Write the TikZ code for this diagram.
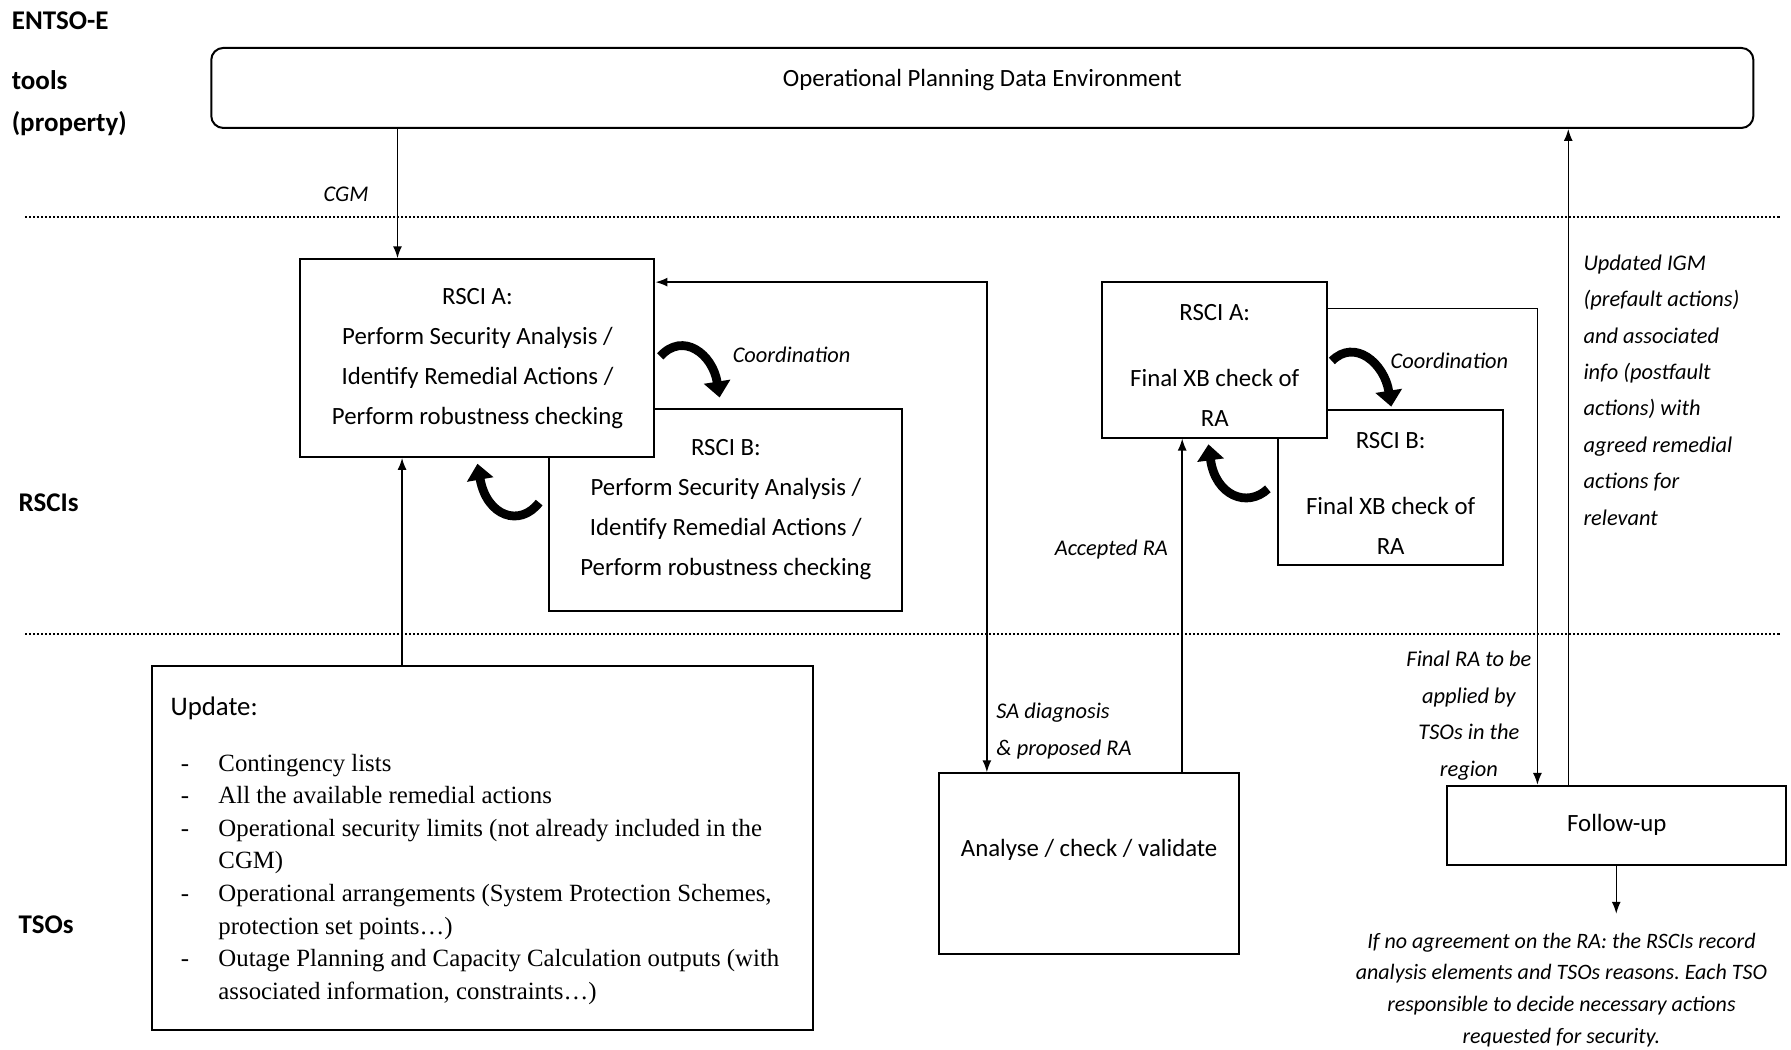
\documentclass[tikz,border=0pt]{standalone}
\usepackage{fontspec}
\setmainfont{Liberation Serif}
\setsansfont{Carlito}
\usetikzlibrary{arrows.meta,positioning}
\frenchspacing

\tikzset{
  box/.style={draw, line width=1pt, fill=white, inner sep=0pt, align=center,
    font=\sffamily\fontsize{12.4}{20}\selectfont},
  txt/.style={inner sep=0pt, align=center, font=\sffamily\fontsize{12.4}{20}\selectfont},
  conn/.style={line width=0.75pt},
  lane/.style={line width=1.3pt, dash pattern=on 1pt off 1pt},
  lab/.style={inner sep=0pt, align=center, font=\sffamily\itshape\fontsize{11.2}{18.2}\selectfont},
  side/.style={anchor=west, inner sep=0pt, font=\sffamily\bfseries\fontsize{13.5}{16}\selectfont},
  coordarr/.style={line width=4.4pt, -{Triangle[length=8pt,width=13pt]}},
  >={Latex[length=6pt,width=4.5pt]}
}

\begin{document}
\begin{tikzpicture}[x=0.571pt,y=-0.571pt]
\useasboundingbox (0,0) rectangle (1568,919);

% swim lanes
\node[side] (entso) at (10,18) {ENTSO-E};
\node[side] (tools) at (10,70) {tools};
\node[side] (prop) at (10,108) {(property)};
\node[side] (rscis) at (16,440) {RSCIs};
\node[side] (tsos) at (16,810) {TSOs};
\draw[lane] (22,190) -- (1558,190);
\draw[lane] (22,555) -- (1558,555);

% boxes
\node[box, rounded corners=6pt, minimum width=770.9pt, minimum height=40pt] (opde) at (860,77) {};
\node[txt] (opdetxt) at (860,70) {Operational Planning Data Environment};

\node[box, minimum width=176.4pt, minimum height=101pt] (rsciBl) at (635.5,446.5)
  {RSCI B:\\Perform Security Analysis /\\Identify Remedial Actions /\\Perform robustness checking};
\node[box, minimum width=177pt, minimum height=98.8pt] (rsciAl) at (418,313.5)
  {RSCI A:\\Perform Security Analysis /\\Identify Remedial Actions /\\Perform robustness checking};

\node[box, minimum width=112.5pt, minimum height=77.7pt] (rsciBr) at (1217.5,427) {};
\node[txt] (rsciBrtxt) at (1217.5,432) {RSCI B:\\[13pt]Final XB check of\\RA};
\node[box, minimum width=112.5pt, minimum height=77.7pt] (rsciAr) at (1063.5,315) {};
\node[txt] (rsciArtxt) at (1063.5,320) {RSCI A:\\[13pt]Final XB check of\\RA};

\node[box, minimum width=150.2pt, minimum height=90.2pt] (analyse) at (953.5,756) {};
\node[txt] (analysetxt) at (953.5,744) {Analyse / check / validate};

\node[box, minimum width=169.6pt, minimum height=39.4pt] (follow) at (1415.5,722.5) {Follow-up};

\node[box, minimum width=330.6pt, minimum height=182.1pt] (update) at (422.5,742.5) {};
\node[anchor=west, inner sep=0pt, font=\sffamily\fontsize{13.4}{16}\selectfont] (updtitle) at (149,620) {Update:};
\node[anchor=base west, inner sep=0pt, font=\rmfamily\fontsize{12.4}{16.3}\selectfont] (updlist) at (158,675)
  {\begin{tabular}[t]{@{}p{18.8pt}@{}l@{}}
  - & Contingency lists\\
  - & All the available remedial actions\\
  - & Operational security limits (not already included in the\\
    & CGM)\\
  - & Operational arrangements (System Protection Schemes,\\
    & protection set points…)\\
  - & Outage Planning and Capacity Calculation outputs (with\\
    & associated information, constraints…)
  \end{tabular}};

% connectors
\coordinate (cgm) at (348,0);
\draw[conn,->] (opde.south -| cgm) -- (rsciAl.north -| cgm);
\node[lab] (cgmlab) at (303,170) {CGM};

\coordinate (upd) at (352,0);
\draw[conn,->] (update.north -| upd) -- (rsciAl.south -| upd);

\coordinate (sa) at (864,247);
\draw[conn,<->] (rsciAl.east |- sa) -- (sa) -- (analyse.north -| sa);
\node[lab, anchor=west, align=left] (salab) at (872,640) {SA diagnosis\\\& proposed RA};

\coordinate (acc) at (1035,0);
\draw[conn,->] (analyse.north -| acc) -- (rsciAr.south -| acc);
\node[lab] (acclab) at (973,481) {Accepted RA};

\coordinate (fin) at (1346,270);
\draw[conn,->] (rsciAr.east |- fin) -- (fin) -- (follow.north -| fin);
\node[lab] (finlab) at (1286,626.5) {Final RA to be\\applied by\\TSOs in the\\region};

\coordinate (igm) at (1373,0);
\draw[conn,->] (follow.north -| igm) -- (opde.south -| igm);
\node[lab, anchor=west, align=left] (igmlab) at (1386,341.5)
  {Updated IGM\\(prefault actions)\\and associated\\info (postfault\\actions) with\\agreed remedial\\actions for\\relevant};

\coordinate (noagr) at (1415,800);
\draw[conn,->] (follow.south -| noagr) -- (noagr);
\node[lab, font=\sffamily\itshape\fontsize{11}{15.8}\selectfont] (noagrlab) at (1367,866.5)
  {If no agreement on the RA: the RSCIs record\\analysis elements and TSOs reasons. Each TSO\\responsible to decide necessary actions\\requested for security.};

% coordination arrows
\coordinate (c1s) at (578,312);
\coordinate (c1e) at (630,348);
\draw[coordarr] (c1s) .. controls (598,290) and (624,310) .. (c1e);
\coordinate (c2s) at (472,440);
\coordinate (c2e) at (418,406);
\draw[coordarr] (c2s) .. controls (455,462) and (426,452) .. (c2e);
\node[lab] (coordl) at (693,311) {Coordination};

\coordinate (c3s) at (1166,316);
\coordinate (c3e) at (1218,356);
\draw[coordarr] (c3s) .. controls (1186,296) and (1212,318) .. (c3e);
\coordinate (c4s) at (1110,428);
\coordinate (c4e) at (1058,389);
\draw[coordarr] (c4s) .. controls (1092,445) and (1064,434) .. (c4e);
\node[lab] (coordr) at (1269,316) {Coordination};
\end{tikzpicture}
\end{document}
